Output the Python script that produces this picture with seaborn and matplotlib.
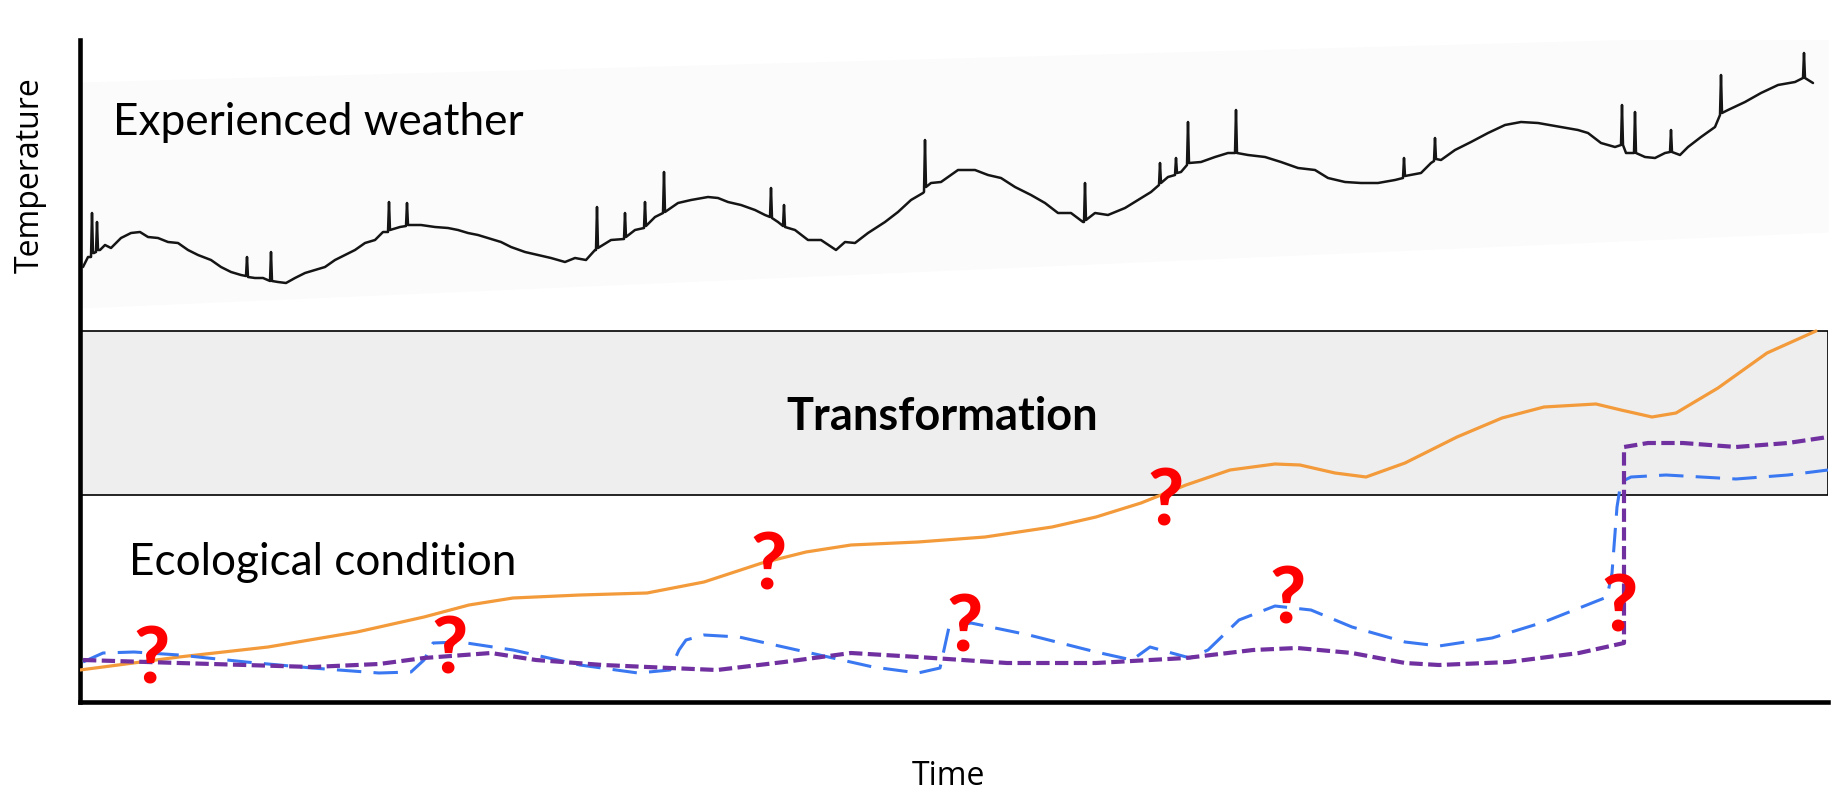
import matplotlib
matplotlib.use("Agg")
import matplotlib.pyplot as plt
import seaborn as sns
import pandas as pd

sns.set_style("white")
plt.rcParams['font.family'] = ['Lato', 'DejaVu Sans']
plt.rcParams['text.color'] = 'black'
plt.rcParams['axes.labelcolor'] = 'black'

# experienced weather trace (time, temperature), spikes included
weather_t = [3, 8, 11, 12, 13, 14, 16, 17, 18, 20, 25, 31, 41, 51, 60, 68, 78, 88, 98, 108, 118, 131, 141, 151, 161,
             166, 167, 168, 175, 183, 190, 191, 192, 198, 206, 215, 225, 235, 245, 255, 265, 275, 285, 295, 303,
             308, 309, 310, 320, 326, 327, 328, 341, 355, 368, 378, 388, 398, 408, 421, 431, 445, 458, 471, 485,
             495, 506, 515, 516, 517, 518, 531, 544, 545, 546, 555, 564, 565, 566, 575, 583, 584, 585, 598, 611,
             628, 638, 648, 661, 675, 685, 690, 691, 692, 698, 703, 704, 705, 715, 728, 741, 756, 765, 775, 788,
             805, 818, 831, 843, 844, 845, 846, 851, 861, 878, 895, 908, 921, 935, 951, 965, 978, 991, 1003, 1004,
             1005, 1006, 1015, 1028, 1045, 1058, 1071, 1079, 1080, 1081, 1088, 1095, 1096, 1097, 1101, 1107, 1108,
             1109, 1121, 1135, 1148, 1155, 1156, 1157, 1168, 1185, 1201, 1218, 1235, 1248, 1265, 1281, 1298, 1315,
             1323, 1324, 1325, 1341, 1351, 1354, 1355, 1356, 1361, 1375, 1391, 1408, 1425, 1441, 1458, 1481, 1498,
             1508, 1521, 1535, 1541, 1542, 1543, 1546, 1554, 1555, 1556, 1565, 1575, 1585, 1590, 1591, 1592, 1600,
             1608, 1621, 1635, 1640, 1641, 1642, 1648, 1665, 1681, 1698, 1715, 1723, 1724, 1725, 1733]
weather_temp = [435, 445, 445, 489, 449, 449, 450, 480, 452, 452, 457, 454, 464, 469, 470, 465, 464, 460, 459, 452, 447,
                442, 435, 430, 427, 426, 445, 425, 424, 424, 421, 450, 421, 420, 419, 424, 429, 432, 435, 442, 447,
                452, 459, 462, 470, 470, 500, 472, 475, 476, 499, 477, 477, 475, 474, 472, 469, 467, 464, 460, 455,
                450, 447, 444, 440, 444, 442, 452, 452, 495, 454, 462, 463, 489, 465, 472, 474, 500, 476, 485, 489,
                530, 490, 499, 502, 505, 504, 500, 497, 492, 487, 485, 514, 484, 480, 476, 497, 475, 472, 462, 462,
                452, 460, 459, 469, 480, 490, 502, 509, 510, 562, 515, 519, 520, 532, 532, 527, 524, 515, 507, 499,
                489, 489, 480, 480, 519, 482, 489, 487, 494, 502, 510, 517, 539, 519, 525, 527, 544, 529, 530, 537,
                580, 539, 540, 545, 549, 549, 592, 549, 547, 545, 540, 534, 532, 524, 520, 519, 519, 522, 524, 544,
                526, 529, 539, 541, 564, 543, 542, 552, 560, 569, 577, 580, 579, 575, 572, 569, 559, 555, 557, 597,
                557, 549, 549, 590, 549, 545, 544, 549, 550, 572, 550, 547, 555, 565, 575, 587, 627, 589, 592, 600,
                609, 617, 620, 624, 649, 624, 619]

# ecological condition scenarios
orange_t = [0, 99, 188, 277, 344, 389, 433, 500, 567, 624, 682, 726, 771, 838, 905, 972, 1016, 1061, 1106, 1150,
            1195, 1220, 1255, 1286, 1325, 1377, 1422, 1464, 1516, 1541, 1572, 1596, 1638, 1687, 1736]
orange_temp = [32, 45, 55, 70, 85, 97, 104, 107, 109, 120, 139, 150, 157, 160, 165, 175, 185, 199, 217, 232,
               238, 237, 229, 225, 239, 265, 284, 295, 298, 292, 285, 289, 314, 349, 371]

blue_t = [3, 23, 54, 99, 166, 232, 299, 331, 344, 353, 380, 433, 500, 558, 590, 599, 606, 624, 659, 726, 793, 838,
          860, 869, 891, 949, 1016, 1052, 1070, 1088, 1110, 1128, 1159, 1195, 1231, 1272, 1325, 1359, 1412, 1464,
          1527, 1532, 1537, 1541, 1551, 1586, 1656, 1708, 1748]
blue_temp = [40, 49, 50, 47, 40, 34, 29, 30, 42, 59, 60, 52, 37, 29, 32, 52, 62, 67, 65, 50, 35, 29,
             34, 75, 79, 67, 50, 42, 55, 50, 44, 52, 82, 96, 92, 75, 60, 56, 64, 80,
             105, 129, 195, 220, 225, 227, 223, 227, 232]

purple_t = [3, 99, 232, 299, 344, 411, 456, 523, 590, 637, 704, 771, 838, 927, 1016, 1106, 1173, 1217, 1272, 1325,
            1359, 1429, 1499, 1544, 1544, 1568, 1603, 1656, 1708, 1748]
purple_temp = [42, 39, 35, 38, 44, 49, 42, 37, 34, 32, 40, 49, 45, 39, 39, 44, 52, 54, 49, 39,
               37, 40, 49, 59, 255, 259, 259, 255, 259, 265]

# question marks (baseline positions)
q_t = [72, 370, 689, 885, 1086, 1208, 1540]
q_temp = [19, 29, 112, 50, 177, 78, 70]

# transformation band and faint weather image background
transform_low, transform_high = 207, 371
band_t = [0, 1748]
band_top = [620, 668]
band_bottom = [394, 470]

fig = plt.figure(figsize=(18.47, 7.9), dpi=100)
ax = fig.add_axes([80 / 1847, 88 / 790, 1748 / 1847, 662 / 790])

ax.fill_between(band_t, band_bottom, band_top, color='#fbfbfb', lw=0, zorder=0)
ax.axhspan(transform_low, transform_high, facecolor='#eeeeee', edgecolor='black', lw=1.2, zorder=1)

weather = pd.DataFrame({'t': weather_t, 'temp': weather_temp})
sns.lineplot(data=weather, x='t', y='temp', ax=ax, color='#151515', lw=1.8, sort=False, estimator=None, zorder=3)

orange = pd.DataFrame({'t': orange_t, 'temp': orange_temp})
sns.lineplot(data=orange, x='t', y='temp', ax=ax, color='#f39a3b', lw=2.3, sort=False, estimator=None, zorder=4)

blue = pd.DataFrame({'t': blue_t, 'temp': blue_temp})
sns.lineplot(data=blue, x='t', y='temp', ax=ax, color='#3a78f2', lw=2.2, sort=False, estimator=None, zorder=4,
             linestyle=(0, (8, 4)))

purple = pd.DataFrame({'t': purple_t, 'temp': purple_temp})
sns.lineplot(data=purple, x='t', y='temp', ax=ax, color='#7030a0', lw=3.0, sort=False, estimator=None, zorder=4,
             linestyle=(0, (3.2, 1.3)))

for t, v in zip(q_t, q_temp):
    ax.text(t, v, '?', color='#ff0000', fontsize=56, fontweight='black', ha='center', va='baseline', zorder=6)

ax.text(33, 567, 'Experienced weather', fontsize=31.8, ha='left', va='baseline', zorder=5)
ax.text(862, 272, 'Transformation', fontsize=32.5, fontweight='bold', ha='center', va='baseline', zorder=5)
ax.text(49, 127, 'Ecological condition', fontsize=31.8, ha='left', va='baseline', zorder=5)

ax.set_xlim(0, 1748)
ax.set_ylim(0, 662)
ax.set_xticks([])
ax.set_yticks([])
ax.set_xlabel('Time', fontsize=23, family=['Open Sans', 'DejaVu Sans'])
ax.set_ylabel('Temperature', fontsize=23, family=['Open Sans', 'DejaVu Sans'])
ax.xaxis.set_label_coords((948 - 80) / 1748, (702 - 760) / 662)
ax.yaxis.set_label_coords((47 - 80) / 1748, (702 - 175) / 662)

for side in ['top', 'right']:
    ax.spines[side].set_visible(False)
for side in ['left', 'bottom']:
    ax.spines[side].set_linewidth(3.3)
    ax.spines[side].set_color('black')

plt.savefig('out.png', dpi=100)
